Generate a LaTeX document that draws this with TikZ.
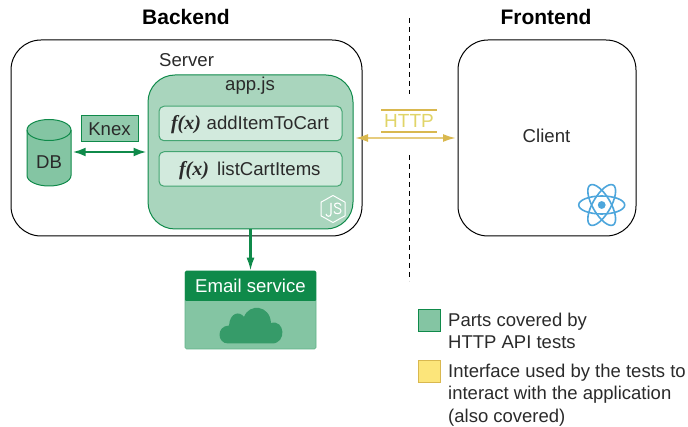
\documentclass[tikz,border=0pt]{standalone}
\usepackage{fontspec}
\setmainfont{Liberation Sans}
\newfontfamily\fxfont{Liberation Serif}
\usetikzlibrary{arrows.meta,calc}
\definecolor{gr}{HTML}{0F8A4A}
\definecolor{gmid}{HTML}{84C5A3}
\definecolor{gknex}{HTML}{92CBAD}
\definecolor{glight}{HTML}{A9D5BD}
\definecolor{gpale}{HTML}{D2EADD}
\definecolor{gcloud}{HTML}{369B69}
\definecolor{gold}{HTML}{D9B84F}
\definecolor{goldl}{HTML}{E6CC7E}
\definecolor{httptxt}{HTML}{E0D468}
\definecolor{yel}{HTML}{FCE57A}
\definecolor{ink}{HTML}{2A2A2A}
\definecolor{reactc}{HTML}{4DA6DC}
\tikzset{
  x=1pt,y=-1pt,
  lbl/.style={text=ink,font=\fontsize{18.6}{22}\selectfont,inner sep=0pt},
  head/.style={text=black,font=\bfseries\fontsize{21}{24}\selectfont,inner sep=0pt},
  bigbox/.style={draw=black,line width=1pt,rounded corners=30pt,fill=white,inner sep=0pt},
  fnbox/.style={draw=gr!55!gmid,line width=1pt,fill=gpale,rounded corners=5pt,minimum width=183pt,minimum height=34.5pt,inner sep=0pt},
  fx/.style={font=\fxfont\bfseries\itshape\fontsize{20}{22}\selectfont,text=ink,inner sep=0pt},
  gline/.style={draw=gr,line width=2.2pt},
  leg/.style={text=ink,inner sep=0pt,align=left,anchor=north west,font=\fontsize{18.5}{22.3}\selectfont},
  swatch/.style={minimum width=22pt,minimum height=22pt,inner sep=0pt,line width=1pt},
  dashdiv/.style={draw=black,line width=1pt,dash pattern=on 5pt off 4pt},
}
\begin{document}
\begin{tikzpicture}
\useasboundingbox (0,0) rectangle (688,427);
\node[head] (be) at (186,17) {Backend};
\node[head] (fe) at (546,17) {Frontend};
% dashed divider
\coordinate (d1) at (409.5,18);
\coordinate (d2) at (409.5,94);
\coordinate (d3) at (409.5,155);
\coordinate (d4) at (409.5,281);
\draw[dashdiv] (d1) -- (d2);
\draw[dashdiv] (d3) -- (d4);
% boxes
\node[bigbox,minimum width=351pt,minimum height=196pt] (server) at (186.5,138) {};
\node[bigbox,minimum width=178pt,minimum height=196pt] (client) at (547,138) {};
\node[lbl,anchor=west] (serverl) at (159,60) {Server};
\node[lbl] (clientl) at (546.5,136) {Client};
% app.js
\node[draw=gr,line width=1pt,fill=glight,rounded corners=27pt,minimum width=205pt,minimum height=154pt,inner sep=0pt] (app) at (250.5,152) {};
\node[lbl] (appl) at (250,86) {app.js};
\node[fnbox] (fn1) at (250.5,123.5) {};
\node[fnbox] (fn2) at (250.5,169) {};
\node[fx,anchor=base] (fx1) at (186,130) {f(x)};
\node[lbl,anchor=base west] (add) at (206.5,130) {addItemToCart};
\node[fx,anchor=base] (fx2) at (194,175.5) {f(x)};
\node[lbl,anchor=base west] (list) at (217,175.5) {listCartItems};
% node js logo
\node[draw=none,minimum size=28pt,inner sep=0pt] (nodejs) at (333,209) {};
\draw[white,line width=1pt,line join=round] (333,195.5) -- (345,202.2) -- (345,215.8) -- (333,222.5) -- (321,215.8) -- (321,202.2) -- cycle;
\draw[white,line width=1.1pt] (331,203) -- (331,214) .. controls (331,217) and (326.5,217) .. (326,214);
\draw[white,line width=1.1pt] (341,205.5) .. controls (340,202) and (334,202.5) .. (334.5,205.5) .. controls (335,208.5) and (341,207.5) .. (341,211) .. controls (341,214.5) and (334.5,214.5) .. (334,211.5);
% DB
\node[minimum width=44pt,minimum height=67pt,inner sep=0pt] (db) at (49,152) {};
\draw[draw=gr,line width=1pt,fill=gmid] (27,130) -- (27,175.5) arc[start angle=180,end angle=360,x radius=22pt,y radius=10.5pt] -- (71,130) arc[start angle=0,end angle=180,x radius=22pt,y radius=10.5pt] -- cycle;
\draw[draw=gr,line width=1pt] (27,130) arc[start angle=180,end angle=360,x radius=22pt,y radius=10.5pt];
\node[lbl] (dbl) at (49,162) {DB};
% Knex
\node[draw=gr,line width=1pt,fill=gknex,minimum width=57pt,minimum height=26pt,inner sep=0pt,lbl] (knex) at (109.5,129) {Knex};
\draw[gline,{Latex[length=13pt,width=9pt,color=gr]}-{Latex[length=13pt,width=9pt,color=gr]},shorten <=1.5pt,shorten >=1pt] (db.east) -- (app.west);
% HTTP
\node[text=httptxt,font=\fontsize{19}{22}\selectfont,inner sep=0pt] (http) at (409,121) {HTTP};
\coordinate (h1) at (381,110); \coordinate (h2) at (437,110);
\coordinate (h3) at (381,132); \coordinate (h4) at (437,132);
\draw[gold,line width=1.5pt] (h1) -- (h2);
\draw[gold,line width=1.5pt] (h3) -- (h4);
\coordinate (hy) at (400,138);
\draw[draw=goldl,line width=2pt,{Latex[length=13pt,width=8pt,color=gold]}-{Latex[length=13pt,width=8pt,color=gold]},shorten <=1.5pt,shorten >=1.5pt] (app.east |- hy) -- (client.west |- hy);
% email
\node[draw=gmid!70!gr,line width=.6pt,fill=gmid,rounded corners=1.5pt,minimum width=131pt,minimum height=78pt,inner sep=0pt] (email) at (250.5,310) {};
\node[fill=gr,minimum width=131pt,minimum height=30pt,inner sep=0pt,rounded corners=1pt,text=white,font=\fontsize{18.6}{22}\selectfont] (emailh) at (250.5,286) {Email service};
\fill[gcloud] (228,343.5) .. controls (217,343.5) and (216,326) .. (229,325.5) .. controls (230,312) and (240,311) .. (244,317) .. controls (249,303) and (270,305) .. (271,323) .. controls (285,319) and (287,343.5) .. (272,343.5) -- cycle;
\draw[gline,-{Latex[length=13pt,width=8pt,color=gr]}] (app.south) -- (email.north);
% react
\coordinate (rc) at (601.7,205);
\fill[reactc] (rc) circle[radius=3.9pt];
\foreach \a in {0,60,120}{
  \draw[reactc,line width=1.6pt,rotate around={\a:(rc)}] (rc) ellipse[x radius=23pt,y radius=9pt];
}
% legend
\node[swatch,draw=gr,fill=gmid] (sw1) at (429,321) {};
\node[swatch,draw=gold,fill=yel] (sw2) at (429,372) {};
\node[leg] (t1) at (448,313) {Parts covered by\\HTTP API tests};
\node[leg] (t2) at (448,364) {Interface used by the tests to\\interact with the application\\(also covered)};
\end{tikzpicture}
\end{document}
